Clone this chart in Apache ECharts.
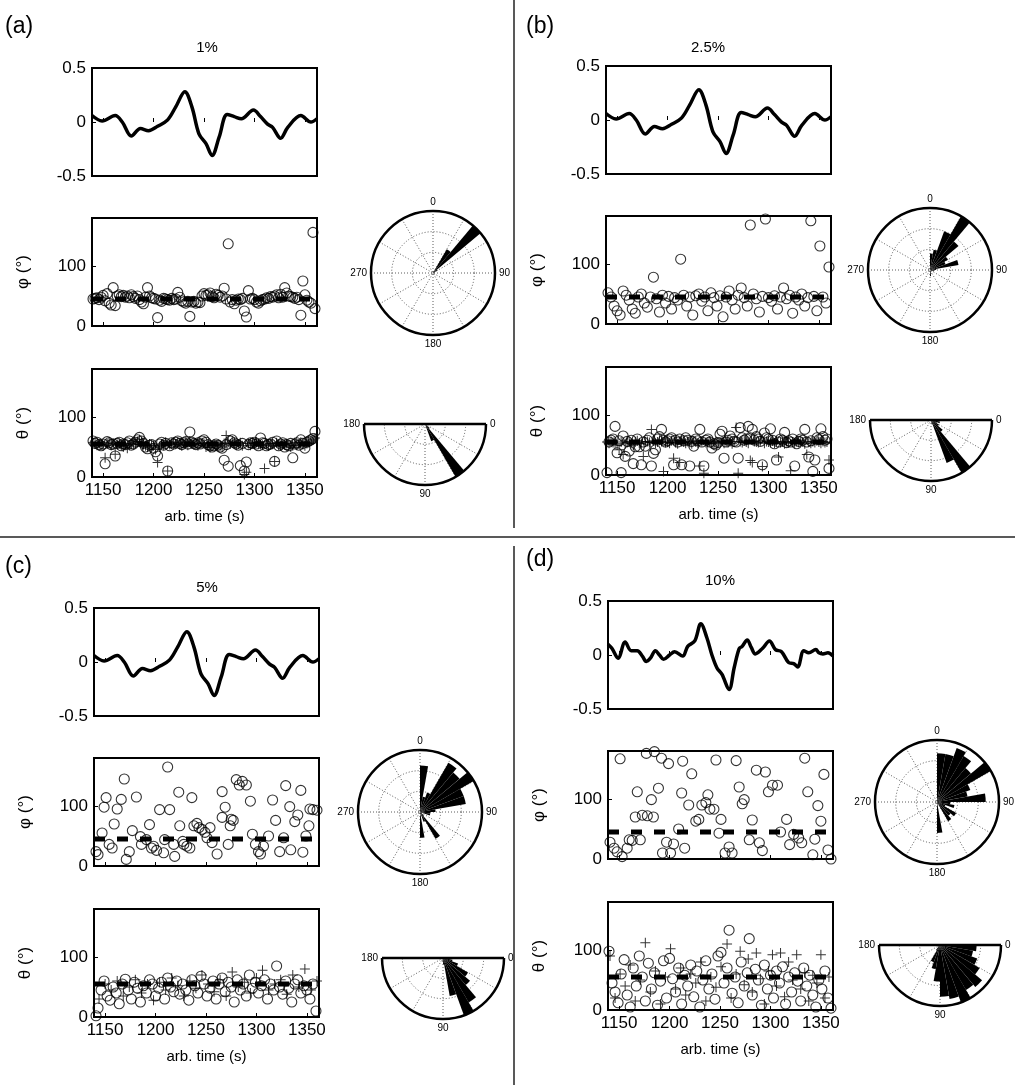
<!DOCTYPE html>
<html>
<head>
<meta charset="utf-8">
<title>Orientation estimates vs noise level</title>
<script src="https://cdn.jsdelivr.net/npm/echarts@6/dist/echarts.min.js"></script>
<style>
  html, body { margin: 0; padding: 0; background: #fff; }
  #chart { width: 1015px; height: 1085px; }
</style>
</head>
<body>
<div id="chart"></div>
<script>
// ---- data ----
var sampleTimes = [
  1140,1142,1144,1146,1148,1150,1152,1154,1156,1158,
  1160,1162,1164,1166,1168,1170,1172,1174,1176,1178,
  1180,1182,1184,1186,1188,1190,1192,1194,1196,1198,
  1200,1202,1204,1206,1208,1210,1212,1214,1216,1218,
  1220,1222,1224,1226,1228,1230,1232,1234,1236,1238,
  1240,1242,1244,1246,1248,1250,1252,1254,1256,1258,
  1260,1262,1264,1266,1268,1270,1272,1274,1276,1278,
  1280,1282,1284,1286,1288,1290,1292,1294,1296,1298,
  1300,1302,1304,1306,1308,1310,1312,1314,1316,1318,
  1320,1322,1324,1326,1328,1330,1332,1334,1336,1338,
  1340,1342,1344,1346,1348,1350,1352,1354,1356,1358,
  1360
];
var timeTicks = [1150, 1200, 1250, 1300, 1350];
var phiTrue = 45, thetaTrue = 55;

// signal trace (t, amplitude)
var signalA = [[1139,0.06],[1149,0.01],[1162,0.06],[1169,0],[1178,-0.13],[1187,-0.06],[1195,-0.08],
  [1204,-0.04],[1214,0.02],[1222,0.14],[1231,0.28],[1238,0.14],[1245,-0.11],[1252,-0.2],[1258,-0.31],
  [1265,-0.14],[1273,0.07],[1280,0.05],[1287,0.03],[1299,0.11],[1306,0.05],[1313,-0.02],[1318,-0.05],
  [1326,-0.15],[1333,-0.05],[1346,0.06],[1356,0],[1362,0.03]];
var signalD = [[1139,0.10],[1143,0.06],[1149,-0.03],[1156,0.12],[1162,0.04],[1168,0.04],[1173,-0.01],
  [1177,-0.06],[1181,-0.03],[1186,0.04],[1190,0],[1194,-0.04],[1200,0],[1205,0.03],[1213,-0.01],
  [1218,0.08],[1225,0.13],[1231,0.29],[1237,0.16],[1242,0],[1247,-0.12],[1252,-0.18],[1259,-0.32],
  [1264,-0.12],[1269,0.06],[1272,0.08],[1277,0.14],[1281,0.07],[1285,0.01],[1292,0.06],[1299,0.13],
  [1305,0.05],[1311,0.03],[1318,-0.07],[1323,-0.08],[1327,-0.11],[1333,0.04],[1338,0.02],[1345,0.05],
  [1348,0.02],[1352,0.01],[1357,0.02],[1362,-0.01]];

// (a) 1%: estimates at every sample time
var phiA = [
  45,46,47,44,48,51,42,54,38,35, 64,34,50,52,49,51,48,50,47,52,
  49,46,50,44,40,37,48,64,50,47, 46,45,14,43,41,46,45,44,43,46,
  44,45,56,48,42,40,38,41,16,40, 41,38,40,39,50,54,51,52,55,49,
  47,53,51,48,50,63,45,137,40,44, 37,43,45,44,46,25,15,59,45,46,
  44,40,38,42,44,45,47,46,49,48, 50,52,47,53,48,64,55,50,49,48,
  46,48,44,18,75,52,43,40,38,156, 29];
var thetaA = [
  60,56,58,54,52,55,22,59,57,54, 55,35,56,58,52,55,54,57,60,53,
  55,58,62,66,60,56,50,47,53,54, 48,42,35,55,58,53,56,10,52,57,
  55,58,60,56,54,57,59,55,75,58, 56,54,57,55,60,62,58,54,52,50,
  52,55,53,50,48,28,54,18,60,62, 57,55,53,19,56,10,25,54,57,56,
  58,55,52,65,57,56,52,54,55,58, 26,60,52,55,57,50,54,52,56,32,
  55,57,53,62,56,48,58,60,62,64, 76];
var thetaPlusA = [
  57,55,53,56,54,52,32,55,58,53, 56,38,54,56,52,50,55,48,53,56,
  54,57,59,62,58,54,52,50,55,53, 52,46,24,50,55,53,58,10,54,56,
  57,55,58,54,52,56,58,53,60,55, 54,56,52,55,57,56,50,53,49,52,
  55,53,54,52,50,56,69,58,55,60, 56,53,55,57,52,4,8,56,53,57,
  55,58,56,54,53,14,55,52,56,55, 26,57,53,52,55,54,56,53,50,52,
  57,53,55,58,54,52,56,58,60,62, 65];

// (b) 2.5%
var phiB = [[1141,52],[1144,45],[1147,30],[1150,22],[1153,15],[1156,55],[1159,48],[1162,40],[1165,25],
  [1168,18],[1171,45],[1174,50],[1177,35],[1180,28],[1183,45],[1186,78],[1189,42],[1192,20],[1195,48],
  [1198,35],[1201,46],[1204,25],[1207,44],[1210,40],[1213,108],[1216,48],[1219,30],[1222,45],[1225,15],
  [1228,47],[1231,50],[1234,38],[1237,45],[1240,22],[1243,52],[1246,44],[1249,30],[1252,47],[1255,12],
  [1258,45],[1261,55],[1264,40],[1267,25],[1270,48],[1273,60],[1276,44],[1279,30],[1282,165],[1285,50],
  [1288,42],[1291,20],[1294,46],[1297,175],[1300,44],[1303,38],[1306,47],[1309,25],[1312,45],[1315,60],
  [1318,42],[1321,48],[1324,18],[1327,45],[1330,40],[1333,50],[1336,30],[1339,44],[1342,172],[1345,46],
  [1348,22],[1351,130],[1354,45],[1357,35],[1360,95]];
var thetaB = [
  4,55,58,60,81,37,57,4,65,31, 56,40,58,19,47,60,47,17,55,48,
  58,62,15,36,42,60,64,76,58,55, 57,60,62,17,58,55,60,17,57,62,
  58,15,56,48,60,57,76,55,15,58, 60,55,45,52,50,54,68,73,28,55,
  58,65,60,56,55,28,79,62,58,60, 81,62,76,58,64,60,56,17,70,62,
  60,77,58,52,25,55,60,58,71,54, 57,55,60,15,52,56,60,58,76,55,
  30,57,6,25,62,59,77,64,58,60, 11];
var thetaPlusB = [
  55,53,56,54,52,50,42,55,34,52, 54,56,53,50,55,57,53,52,31,55,
  56,54,76,57,53,55,58,56,6,54, 55,53,57,28,54,52,21,56,55,53,
  56,54,52,57,55,53,15,56,3,54, 55,57,53,52,56,54,55,57,53,55,
  54,56,52,55,79,3,56,54,57,55, 53,24,21,56,55,54,57,14,53,56,
  55,54,57,53,56,30,54,55,52,56, 54,7,55,53,56,54,57,55,52,34,
  55,53,56,54,57,55,53,56,54,55, 25];

// (c) 5%
var phiC = [[1141,24],[1143,19],[1147,55],[1149,98],[1151,114],[1154,36],[1157,30],[1159,70],[1162,95],
  [1163,181],[1166,111],[1169,145],[1171,11],[1174,24],[1177,59],[1181,115],[1185,49],[1186,36],[1191,44],
  [1194,69],[1196,30],[1198,33],[1201,26],[1204,94],[1208,22],[1209,44],[1212,165],[1214,94],[1218,36],
  [1219,16],[1223,123],[1224,67],[1227,41],[1228,36],[1231,33],[1234,30],[1236,114],[1238,67],[1241,71],
  [1243,64],[1246,61],[1249,56],[1251,47],[1254,64],[1256,39],[1261,20],[1266,124],[1266,81],[1269,98],
  [1272,36],[1274,67],[1275,78],[1277,76],[1280,144],[1283,135],[1286,141],[1290,135],[1294,108],
  [1296,53],[1299,36],[1302,24],[1304,20],[1307,33],[1312,50],[1316,110],[1319,76],[1323,24],[1327,47],
  [1329,134],[1333,99],[1334,27],[1338,74],[1341,85],[1344,126],[1346,23],[1349,50],[1352,67],[1353,95],
  [1356,94],[1360,93]];
var thetaC = [[1141,2],[1143,15],[1146,45],[1149,60],[1152,35],[1155,28],[1158,50],[1161,40],[1164,22],
  [1167,55],[1170,63],[1173,45],[1176,30],[1179,58],[1182,48],[1185,25],[1188,52],[1191,40],[1194,62],
  [1197,55],[1200,35],[1203,48],[1206,58],[1209,30],[1212,65],[1215,50],[1218,42],[1221,60],[1224,38],
  [1227,55],[1230,45],[1233,28],[1236,62],[1239,52],[1242,40],[1245,68],[1248,55],[1251,35],[1254,48],
  [1257,60],[1260,30],[1263,55],[1266,65],[1269,42],[1272,58],[1275,50],[1278,25],[1281,62],[1284,45],
  [1287,55],[1290,35],[1293,70],[1296,48],[1299,58],[1302,40],[1305,52],[1308,62],[1311,30],[1314,55],
  [1317,45],[1320,85],[1323,50],[1326,38],[1329,60],[1332,48],[1335,25],[1338,55],[1341,62],[1344,40],
  [1347,52],[1350,45],[1353,30],[1356,55],[1359,10]];
var thetaPlusC = [[1144,30],[1150,55],[1156,45],[1162,60],[1168,35],[1174,50],[1180,62],[1186,40],
  [1192,55],[1198,28],[1204,58],[1210,45],[1216,65],[1222,52],[1228,35],[1234,60],[1240,48],[1246,70],
  [1252,55],[1258,42],[1264,62],[1270,35],[1276,75],[1282,50],[1288,58],[1294,40],[1300,65],[1306,78],
  [1312,45],[1318,55],[1324,62],[1330,38],[1336,70],[1342,50],[1348,80],[1354,45],[1360,60]];

// (d) 10%
var phiD = [[1141,28],[1145,18],[1148,12],[1151,167],[1153,4],[1158,18],[1160,32],[1163,31],[1166,70],
  [1168,112],[1171,32],[1173,73],[1177,176],[1178,72],[1182,99],[1184,70],[1185,179],[1189,118],
  [1192,168],[1193,10],[1197,28],[1199,159],[1201,10],[1204,25],[1209,50],[1212,110],[1213,163],
  [1215,18],[1219,90],[1222,142],[1226,63],[1229,66],[1232,90],[1236,94],[1238,107],[1240,83],
  [1244,83],[1246,165],[1249,43],[1251,66],[1255,10],[1259,20],[1262,10],[1266,164],[1269,120],
  [1272,92],[1274,99],[1279,32],[1282,65],[1286,148],[1289,27],[1292,14],[1295,145],[1298,112],
  [1302,123],[1307,123],[1310,45],[1316,66],[1319,24],[1323,41],[1328,35],[1331,27],[1334,168],
  [1337,112],[1342,7],[1344,33],[1347,89],[1350,63],[1353,141],[1357,15],[1360,0]];
var thetaD = [[1140,98],[1143,45],[1146,30],[1149,12],[1152,60],[1155,84],[1158,25],[1161,5],[1164,70],
  [1167,40],[1170,90],[1173,55],[1176,15],[1179,78],[1182,35],[1185,62],[1188,8],[1191,48],[1194,82],
  [1197,20],[1200,86],[1203,52],[1206,30],[1209,70],[1212,10],[1215,58],[1218,40],[1221,75],[1224,22],
  [1227,65],[1230,5],[1233,50],[1236,82],[1239,35],[1242,60],[1245,18],[1248,90],[1251,96],[1254,45],
  [1257,70],[1259,133],[1262,28],[1265,55],[1268,12],[1271,80],[1274,40],[1277,62],[1279,119],
  [1282,25],[1285,68],[1288,50],[1291,8],[1294,75],[1297,35],[1300,58],[1303,20],[1306,65],[1309,45],
  [1312,72],[1315,10],[1318,55],[1321,30],[1324,62],[1327,48],[1330,15],[1333,70],[1336,40],[1339,58],
  [1342,25],[1345,5],[1348,50],[1351,35],[1354,65],[1357,20],[1360,3]];
var thetaPlusD = [[1141,90],[1146,20],[1151,60],[1156,40],[1161,75],[1166,15],[1171,50],[1176,112],
  [1181,30],[1186,65],[1191,10],[1196,55],[1201,102],[1206,35],[1211,70],[1216,25],[1221,60],[1226,45],
  [1231,80],[1236,15],[1241,55],[1246,38],[1251,72],[1257,110],[1261,20],[1266,60],[1270,98],[1274,42],
  [1278,85],[1282,30],[1286,95],[1290,52],[1294,10],[1298,65],[1302,92],[1306,40],[1310,95],[1314,22],
  [1318,80],[1322,50],[1326,92],[1330,35],[1334,62],[1338,15],[1342,58],[1346,45],[1350,92],[1354,20],
  [1358,55]];

// rose histograms: counts per 10 degree bin
var phiBins = ['0','10','20','30','40','50','60','70','80','90','100','110','120','130','140','150','160','170',
  '180','190','200','210','220','230','240','250','260','270','280','290','300','310','320','330','340','350'];
var thetaBins = ['0','10','20','30','40','50','60','70','80','90','100','110','120','130','140','150','160','170'];
var phiRoseA = [0,1,2,32,72,6,2,1,0,0,0,0,0,1,0,1,0,0, 0,0,0,0,0,0,0,0,0,0,0,0,0,0,0,0,0,0];
var phiRoseB = [8,10,20,30,18,10,8,14,3,2,2,0,0,0,0,0,2,3, 0,0,0,0,0,0,0,0,0,0,0,0,0,0,0,0,0,0];
var phiRoseC = [9,3,4,11,10,12,9,9,3,2,2,0,0,1,6,2,0,5, 0,0,0,0,0,0,0,0,0,0,0,0,0,0,0,0,0,0];
var phiRoseD = [11,11,13,12,10,14,8,7,11,3,4,2,5,4,5,0,0,7, 0,0,0,0,0,0,0,0,0,0,0,0,0,0,0,0,0,0];
var thetaRoseA = [2,2,2,2,6,60,18,1,0,0,0,0,0,0,0,0,0,0];
var thetaRoseB = [4,6,4,6,10,40,30,3,1,0,0,0,0,0,0,0,0,0];
var thetaRoseC = [2,3,5,9,11,16,19,12,2,1,0,0,0,0,0,0,0,0];
var thetaRoseD = [12,11,13,15,18,17,20,18,17,12,8,6,2,1,0,0,0,0];

// ---- layout ----
var FONT = 'Liberation Sans, Arial, Helvetica, sans-serif';
var T_MIN = 1139, T_MAX = 1362;

function withTimes(vals) {
  return vals.map(function (v, i) { return [sampleTimes[i], v]; });
}

var panels = [
  { label: '(a)', level: '1%', dx: 0, dy: 0, labelAt: [5, 15], levelAt: [207, 40],
    rose: [433, 273], semi: [425, 424],
    signal: signalA, phi: withTimes(phiA), theta: withTimes(thetaA), thetaPlus: withTimes(thetaPlusA),
    phiRose: phiRoseA, thetaRose: thetaRoseA },
  { label: '(b)', level: '2.5%', dx: 514, dy: -2, labelAt: [526, 15], levelAt: [708, 40],
    rose: [930, 270], semi: [931, 420],
    signal: signalA, phi: phiB, theta: withTimes(thetaB), thetaPlus: withTimes(thetaPlusB),
    phiRose: phiRoseB, thetaRose: thetaRoseB },
  { label: '(c)', level: '5%', dx: 2, dy: 540, labelAt: [5, 555], levelAt: [207, 580],
    rose: [420, 812], semi: [443, 958],
    signal: signalA, phi: phiC, theta: thetaC, thetaPlus: thetaPlusC,
    phiRose: phiRoseC, thetaRose: thetaRoseC },
  { label: '(d)', level: '10%', dx: 516, dy: 533, labelAt: [526, 548], levelAt: [720, 573],
    rose: [937, 802], semi: [940, 945],
    signal: signalD, phi: phiD, theta: thetaD, thetaPlus: thetaPlusD,
    phiRose: phiRoseD, thetaRose: thetaRoseD }
];

var grids = [], xAxes = [], yAxes = [], polars = [], angleAxes = [], radiusAxes = [], series = [], graphics = [];
var plusPath = 'path://M0,4.5H10V5.5H0Z M4.5,0H5.5V10H4.5Z';
var dotted = { color: '#333', width: 0.8, type: [1, 2] };
var plainNumber = function (v) { return String(v); };

panels.forEach(function (p, k) {
  var left = 92 + p.dx;
  var tops = [68 + p.dy, 218 + p.dy, 369 + p.dy];
  tops.forEach(function (top, j) {
    grids.push({ left: left, top: top, width: 225, height: 108, show: true,
      borderColor: '#000', borderWidth: 2, backgroundColor: 'transparent' });
    var gi = grids.length - 1;
    xAxes.push({ gridIndex: gi, type: 'value', min: T_MIN, max: T_MAX,
      axisLine: { show: false }, splitLine: { show: false },
      axisTick: { show: true, inside: true, length: 4, lineStyle: { color: '#000' }, customValues: timeTicks },
      axisLabel: { show: j === 2, customValues: timeTicks, formatter: plainNumber,
        color: '#000', fontSize: 17, fontFamily: FONT, margin: 5 },
      name: j === 2 ? 'arb. time (s)' : '', nameLocation: 'middle', nameGap: 32,
      nameTextStyle: { color: '#000', fontSize: 15, fontFamily: FONT } });
    if (j === 0) {
      yAxes.push({ gridIndex: gi, type: 'value', min: -0.5, max: 0.5, interval: 0.5,
        axisLine: { show: false }, splitLine: { show: false },
        axisTick: { show: true, inside: true, length: 4, lineStyle: { color: '#000' } },
        axisLabel: { formatter: plainNumber, color: '#000', fontSize: 17, fontFamily: FONT, margin: 6 } });
    } else {
      yAxes.push({ gridIndex: gi, type: 'value', min: 0, max: 180,
        axisLine: { show: false }, splitLine: { show: false },
        axisTick: { show: true, inside: true, length: 4, lineStyle: { color: '#000' }, customValues: [0, 100] },
        axisLabel: { customValues: [0, 100], formatter: plainNumber, color: '#000', fontSize: 17, fontFamily: FONT, margin: 6 },
        name: j === 1 ? 'φ (°)' : 'θ (°)', nameLocation: 'middle', nameRotate: 90, nameGap: 60,
        nameTextStyle: { color: '#000', fontSize: 17, fontFamily: FONT } });
    }
  });

  var g = 3 * k;
  series.push({ type: 'line', xAxisIndex: g, yAxisIndex: g, data: p.signal, smooth: 0.35,
    symbol: 'none', lineStyle: { color: '#000', width: 3.5 }, silent: true });

  series.push({ type: 'line', xAxisIndex: g + 1, yAxisIndex: g + 1, data: [[T_MIN, phiTrue], [T_MAX, phiTrue]],
    symbol: 'none', lineStyle: { color: '#000', width: 5, type: [11, 12] }, silent: true });
  series.push({ type: 'scatter', xAxisIndex: g + 1, yAxisIndex: g + 1, data: p.phi, symbol: 'circle',
    symbolSize: 10, itemStyle: { color: 'rgba(0,0,0,0)', borderColor: '#000', borderWidth: 1.1 }, silent: true });

  series.push({ type: 'line', xAxisIndex: g + 2, yAxisIndex: g + 2, data: [[T_MIN, thetaTrue], [T_MAX, thetaTrue]],
    symbol: 'none', lineStyle: { color: '#000', width: 5, type: [11, 12] }, silent: true });
  series.push({ type: 'scatter', xAxisIndex: g + 2, yAxisIndex: g + 2, data: p.theta, symbol: 'circle',
    symbolSize: 10, itemStyle: { color: 'rgba(0,0,0,0)', borderColor: '#000', borderWidth: 1.1 }, silent: true });
  series.push({ type: 'scatter', xAxisIndex: g + 2, yAxisIndex: g + 2, data: p.thetaPlus, symbol: plusPath,
    symbolSize: 10, itemStyle: { color: '#000' }, silent: true });

  // polar grids + rose bars
  var pi = 4 * k;
  var shapes = [
    { center: p.rose, r: 62, start: 90, end: -270, max: 360, bins: phiBins, counts: p.phiRose },
    { center: p.semi, r: 61, start: 0, end: -180, max: 180, bins: thetaBins, counts: p.thetaRose }
  ];
  shapes.forEach(function (s, m) {
    var gp = pi + 2 * m, bp = gp + 1;
    polars.push({ center: s.center, radius: s.r });
    polars.push({ center: s.center, radius: s.r });
    angleAxes.push({ polarIndex: gp, type: 'value', min: 0, max: s.max, interval: 30,
      startAngle: s.start, endAngle: s.end, clockwise: true,
      axisLine: { show: true, lineStyle: { color: '#000', width: 2.5 } }, axisTick: { show: false },
      axisLabel: { color: '#000', fontSize: 10, fontFamily: FONT, margin: 4,
        formatter: function (v) { return (v % 90 === 0 && (s.max === 180 || v < 360)) ? String(v) : ''; } },
      splitLine: { show: true, lineStyle: dotted } });
    radiusAxes.push({ polarIndex: gp, type: 'value', min: 0, max: 3, interval: 1,
      axisLine: { show: false }, axisTick: { show: false }, axisLabel: { show: false },
      splitLine: { show: true, lineStyle: dotted } });
    angleAxes.push({ polarIndex: bp, type: 'category', data: s.bins, startAngle: s.start, endAngle: s.end,
      clockwise: true, show: false, axisLine: { show: false }, axisLabel: { show: false }, axisTick: { show: false },
      splitLine: { show: false } });
    radiusAxes.push({ polarIndex: bp, type: 'value', min: 0, max: Math.max.apply(null, s.counts), show: false,
      axisLine: { show: false }, axisLabel: { show: false }, axisTick: { show: false }, splitLine: { show: false } });
    series.push({ type: 'bar', coordinateSystem: 'polar', polarIndex: bp, data: s.counts,
      barCategoryGap: '0%', itemStyle: { color: '#000' }, silent: true, z: 4 });
    if (m === 1) {
      // straight edge (diameter) of the half rose frame
      graphics.push({ type: 'line', z: 10,
        shape: { x1: s.center[0] - s.r, y1: s.center[1], x2: s.center[0] + s.r, y2: s.center[1] },
        style: { stroke: '#000', lineWidth: 2.5 } });
    }
  });

  graphics.push({ type: 'text', left: p.labelAt[0], top: p.labelAt[1],
    style: { text: p.label, font: '23px ' + FONT, fill: '#000' } });
  graphics.push({ type: 'text', x: p.levelAt[0], y: p.levelAt[1],
    style: { text: p.level, font: '15px ' + FONT, fill: '#000', textAlign: 'center' } });
});

// panel dividers
graphics.push({ type: 'line', shape: { x1: 514, y1: 0, x2: 514, y2: 528 }, style: { stroke: '#222', lineWidth: 1.5 } });
graphics.push({ type: 'line', shape: { x1: 0, y1: 537, x2: 1015, y2: 537 }, style: { stroke: '#222', lineWidth: 1.5 } });
graphics.push({ type: 'line', shape: { x1: 514, y1: 546, x2: 514, y2: 1085 }, style: { stroke: '#222', lineWidth: 1.5 } });

var chart = echarts.init(document.getElementById('chart'), null, { renderer: 'canvas' });
chart.setOption({
  animation: false,
  backgroundColor: '#fff',
  textStyle: { fontFamily: FONT },
  grid: grids,
  xAxis: xAxes,
  yAxis: yAxes,
  polar: polars,
  angleAxis: angleAxes,
  radiusAxis: radiusAxes,
  series: series,
  graphic: graphics
});
</script>
</body>
</html>
